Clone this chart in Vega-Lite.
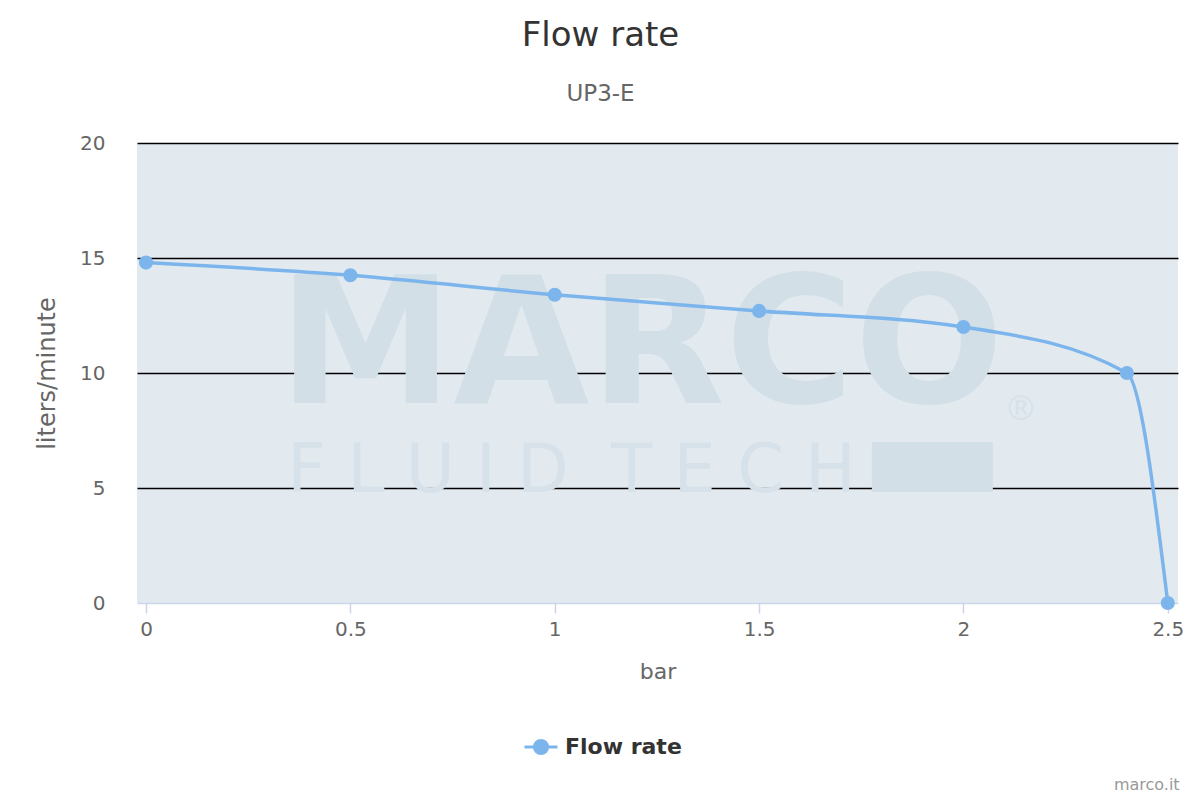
{
  "$schema": "https://vega.github.io/schema/vega-lite/v6.json",
  "width": 1041,
  "height": 460,
  "autosize": "none",
  "padding": {"left": 137, "top": 143, "right": 22, "bottom": 197},
  "background": "white",
  "title": {
    "text": "Flow rate",
    "subtitle": "UP3-E",
    "anchor": "middle",
    "dx": -57,
    "fontSize": 34,
    "fontWeight": "normal",
    "color": "#333333",
    "subtitleFontSize": 23,
    "subtitleColor": "#666666",
    "offset": 27,
    "subtitlePadding": 30
  },
  "config": {
    "font": "DejaVu Sans",
    "view": {"fill": "#e2eaf0", "stroke": null}
  },
  "data": {
    "values": [
      {"bar": 0, "lpm": 14.8, "series": "Flow rate"},
      {"bar": 0.5, "lpm": 14.25, "series": "Flow rate"},
      {"bar": 1, "lpm": 13.4, "series": "Flow rate"},
      {"bar": 1.5, "lpm": 12.7, "series": "Flow rate"},
      {"bar": 2, "lpm": 12, "series": "Flow rate"},
      {"bar": 2.4, "lpm": 10, "series": "Flow rate"},
      {"bar": 2.5, "lpm": 0, "series": "Flow rate"}
    ]
  },
  "encoding": {
    "x": {
      "field": "bar",
      "type": "quantitative",
      "scale": {"domain": [-0.022, 2.525], "nice": false, "zero": false},
      "axis": {
        "title": "bar",
        "values": [0, 0.5, 1, 1.5, 2, 2.5],
        "format": "~g",
        "grid": false,
        "domainColor": "#ccd6eb",
        "domainWidth": 1.5,
        "tickColor": "#ccd6eb",
        "tickWidth": 1.5,
        "tickSize": 10,
        "labelFontSize": 20,
        "labelColor": "#666666",
        "labelPadding": 6,
        "titleFontSize": 22,
        "titleFontWeight": "normal",
        "titleColor": "#666666",
        "titlePadding": 22
      }
    },
    "y": {
      "field": "lpm",
      "type": "quantitative",
      "scale": {"domain": [0, 20], "nice": false},
      "axis": {
        "title": "liters/minute",
        "values": [0, 5, 10, 15, 20],
        "grid": true,
        "gridColor": {"condition": {"test": "datum.value === 0", "value": "transparent"}, "value": "#000000"},
        "gridWidth": 1.5,
        "domain": false,
        "ticks": false,
        "labelFontSize": 20,
        "labelColor": "#666666",
        "labelPadding": 32,
        "titleFontSize": 24,
        "titleFontWeight": "normal",
        "titleColor": "#666666",
        "titlePadding": 20
      }
    }
  },
  "layer": [
    {
      "transform": [{"filter": "datum.bar === 0"}],
      "mark": {"type": "rect", "fill": "#d3dfe7"},
      "encoding": {
        "x": {"datum": 1.776, "type": "quantitative"},
        "x2": {"datum": 2.072},
        "y": {"datum": 7.0, "type": "quantitative"},
        "y2": {"datum": 4.83}
      }
    },
    {
      "transform": [{"filter": "datum.bar === 0"}],
      "mark": {"type": "text", "text": "MARCO", "font": "DejaVu Sans", "fontWeight": "bold", "fontSize": 176, "fill": "#d3dfe7", "align": "center", "baseline": "alphabetic"},
      "encoding": {
        "x": {"datum": 1.211, "type": "quantitative"},
        "y": {"datum": 8.7, "type": "quantitative"}
      }
    },
    {
      "transform": [{"filter": "datum.bar === 0"}],
      "mark": {"type": "text", "text": "F\u00a0L\u00a0U\u00a0I\u00a0D\u00a0\u00a0T\u00a0E\u00a0C\u00a0H", "font": "DejaVu Sans", "fontSize": 67, "fill": "#d6e1e9", "align": "center", "baseline": "alphabetic"},
      "encoding": {
        "x": {"datum": 1.041, "type": "quantitative"},
        "y": {"datum": 4.83, "type": "quantitative"}
      }
    },
    {
      "transform": [{"filter": "datum.bar === 0"}],
      "mark": {"type": "text", "text": "®", "font": "DejaVu Sans", "fontSize": 34, "fill": "#d6e1e9", "align": "center", "baseline": "middle"},
      "encoding": {
        "x": {"datum": 2.14, "type": "quantitative"},
        "y": {"datum": 8.4, "type": "quantitative"}
      }
    },
    {
      "mark": {"type": "line", "interpolate": "monotone", "strokeWidth": 3.5},
      "encoding": {
        "color": {
          "field": "series",
          "type": "nominal",
          "scale": {"range": ["#7cb5ec"]},
          "legend": {
            "title": null,
            "orient": "none",
            "legendX": 386,
            "legendY": 586,
            "symbolType": "M-1,0L1,0M-0.4,0A0.4,0.4 0 1,1 0.4,0A0.4,0.4 0 1,1 -0.4,0Z",
            "symbolSize": 1089,
            "symbolStrokeWidth": 3,
            "symbolFillColor": "#7cb5ec",
            "symbolStrokeColor": "#7cb5ec",
            "labelFontSize": 22,
            "labelFontWeight": "bold",
            "labelColor": "#333333",
            "labelOffset": 6,
            "encode": {
              "symbols": {
                "update": {
                  "fill": {"value": "#7cb5ec"},
                  "stroke": {"value": "#7cb5ec"},
                  "strokeWidth": {"value": 3}
                }
              }
            }
          }
        }
      }
    },
    {
      "mark": {"type": "circle", "size": 200, "opacity": 1, "color": "#7cb5ec"}
    },
    {
      "transform": [{"filter": "datum.bar === 0"}],
      "mark": {"type": "text", "text": "marco.it", "fontSize": 16, "fill": "#999999", "align": "right", "baseline": "alphabetic"},
      "encoding": {
        "x": {"datum": 2.529, "type": "quantitative"},
        "y": {"datum": -8.13, "type": "quantitative"}
      }
    }
  ]
}
